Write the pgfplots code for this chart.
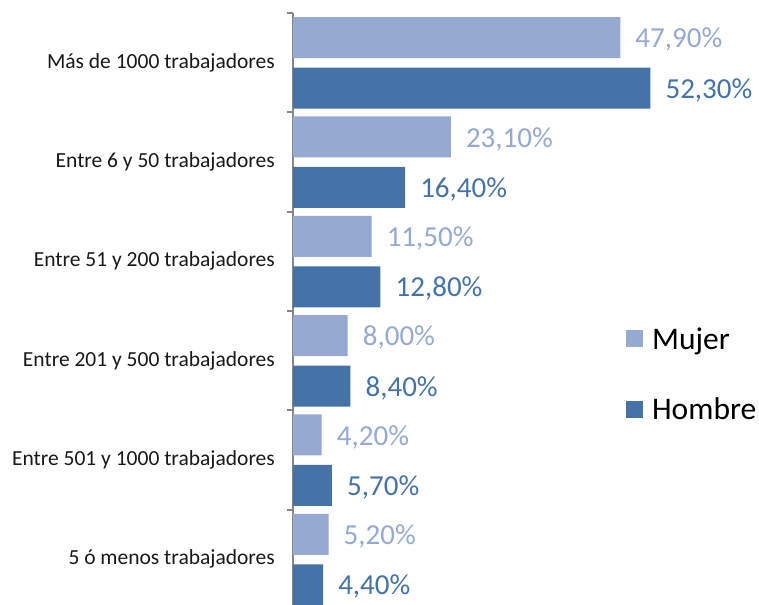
\documentclass[border=0pt]{standalone}
\usepackage{pgfplots}
\pgfplotsset{compat=1.18}
\usepackage{fontspec}
\setmainfont{Carlito}
\definecolor{mujer}{HTML}{95A9D1}
\definecolor{hombre}{HTML}{4573A7}
\definecolor{axisgray}{HTML}{868686}

\begin{document}
\begin{tikzpicture}
  \begin{axis}[
    at={(293bp,0bp)}, anchor=south west,
    scale only axis,
    width=466bp, height=592bp,
    xbar, bar width=41bp,
    xmin=0, xmax=68.2,
    ymin=-0.46, ymax=5.5,
    axis lines*=left,
    x axis line style={draw=none},
    y axis line style={draw=axisgray, line width=2.5bp},
    xtick=\empty,
    ytick={0,1,2,3,4,5},
    yticklabels={5 ó menos trabajadores, Entre 501 y 1000 trabajadores, Entre 201 y 500 trabajadores, Entre 51 y 200 trabajadores, Entre 6 y 50 trabajadores, Más de 1000 trabajadores},
    major tick length=0pt,
    minor ytick={0.5,1.5,2.5,3.5,4.5,5.5},
    minor tick length=6bp,
    tick align=outside,
    minor tick style={draw=axisgray, line width=2bp},
    yticklabel style={font=\fontsize{21.5bp}{25bp}\selectfont, text=black!90, anchor=east, inner sep=0pt, xshift=-18bp},
    /pgf/number format/assume math mode=true,
    nodes near coords={\pgfmathprintnumber[fixed, fixed zerofill, precision=2, use comma, assume math mode=true]{\pgfplotspointmeta}\%},
    nodes near coords style={font=\fontsize{29bp}{32bp}\selectfont, anchor=west, inner sep=0pt, xshift=15bp, yshift=-2bp},
    legend style={at={(0.708,0.39)}, anchor=west, draw=none, fill=none,
      font=\fontsize{31.5bp}{34bp}\selectfont, row sep=47bp,
      nodes={inner sep=0pt}},
    legend cell align=left,
    legend image code/.code={\fill[#1] (-3bp,-8.5bp) rectangle (14bp,8.5bp);},
    clip=false,
  ]
    \addplot[fill=mujer, draw=none, bar shift=25bp, nodes near coords style={text=mujer}]
      coordinates {(47.9,5) (23.1,4) (11.5,3) (8.0,2) (4.2,1) (5.2,0)};
    \addplot[fill=hombre, draw=none, bar shift=-25.5bp, nodes near coords style={text=hombre}]
      coordinates {(52.3,5) (16.4,4) (12.8,3) (8.4,2) (5.7,1) (4.4,0)};
    \legend{\hspace{9bp}Mujer, \hspace{9bp}Hombre}
  \end{axis}
  \pgfresetboundingbox
  \path (0bp,0bp) rectangle (759bp,605bp);
\end{tikzpicture}
\end{document}
